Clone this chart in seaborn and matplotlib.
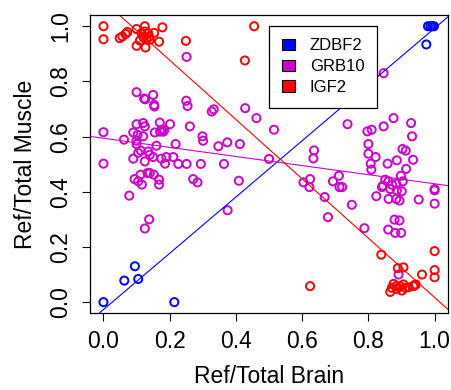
import matplotlib
matplotlib.use("Agg")
import matplotlib.pyplot as plt
import seaborn as sns
import pandas as pd
from matplotlib.patches import Patch

# genes and their colours
genes = ["ZDBF2", "GRB10", "IGF2"]
gene_colors = ["#0000FF", "#CD00CD", "#FF0000"]

# ZDBF2 points (ref/total in brain vs muscle)
zdbf2_brain = [0.0, 0.214, 0.063, 0.095, 0.105, 0.975, 0.980, 0.987, 0.993, 0.998]
zdbf2_muscle = [0.0, 0.0, 0.078, 0.130, 0.084, 0.934, 1.0, 1.0, 1.0, 1.0]

# GRB10 points
grb10_brain = [
    0.251, 0.100, 0.123, 0.126, 0.150, 0.153, 0.154, 0.250, 0.254, 0.327,
    0.333, 0.428, 0.462, 0.515, 0.0, 0.0, 0.062, 0.090, 0.100, 0.120,
    0.125, 0.170, 0.201, 0.176, 0.184, 0.171, 0.181, 0.155, 0.103, 0.120,
    0.100, 0.100, 0.160, 0.218, 0.261, 0.299, 0.301, 0.347, 0.374, 0.412,
    0.135, 0.113, 0.105, 0.090, 0.125, 0.140, 0.150, 0.175, 0.190, 0.211,
    0.186, 0.226, 0.251, 0.294, 0.364, 0.500, 0.271, 0.284, 0.409, 0.375,
    0.094, 0.112, 0.116, 0.105, 0.133, 0.140, 0.152, 0.168, 0.168, 0.078,
    0.138, 0.125,
    0.846, 0.737, 0.797, 0.810, 0.846, 0.876, 0.929, 0.932, 0.800, 0.800,
    0.822, 0.807, 0.809, 0.858, 0.886, 0.903, 0.913, 0.935, 0.914, 0.898,
    0.904, 0.851, 0.844, 0.861, 0.866, 0.884, 0.886, 0.901, 0.841, 0.872,
    0.824, 0.861, 0.884, 0.894, 0.952, 1.0, 1.0, 1.0, 0.879, 0.894,
    0.860, 0.881, 0.899, 0.788, 0.750, 0.678, 0.668, 0.636, 0.634, 0.604,
    0.624, 0.622, 0.693, 0.711, 0.713, 0.721, 0.891,
]
grb10_muscle = [
    0.889, 0.761, 0.738, 0.735, 0.751, 0.715, 0.709, 0.730, 0.711, 0.691,
    0.699, 0.703, 0.667, 0.625, 0.616, 0.502, 0.589, 0.615, 0.645, 0.649,
    0.637, 0.651, 0.645, 0.625, 0.625, 0.618, 0.618, 0.615, 0.606, 0.601,
    0.585, 0.573, 0.567, 0.573, 0.637, 0.601, 0.585, 0.565, 0.579, 0.573,
    0.546, 0.549, 0.541, 0.520, 0.510, 0.534, 0.526, 0.520, 0.526, 0.526,
    0.502, 0.501, 0.501, 0.501, 0.501, 0.519, 0.446, 0.434, 0.440, 0.333,
    0.446, 0.462, 0.426, 0.438, 0.468, 0.468, 0.462, 0.444, 0.426, 0.386,
    0.300, 0.267,
    0.830, 0.645, 0.619, 0.625, 0.637, 0.667, 0.649, 0.601, 0.573, 0.538,
    0.526, 0.502, 0.480, 0.502, 0.514, 0.555, 0.549, 0.516, 0.483, 0.458,
    0.438, 0.444, 0.422, 0.438, 0.410, 0.429, 0.405, 0.402, 0.417, 0.425,
    0.384, 0.374, 0.374, 0.368, 0.372, 0.410, 0.405, 0.357, 0.299, 0.296,
    0.263, 0.251, 0.251, 0.268, 0.353, 0.308, 0.381, 0.550, 0.521, 0.434,
    0.446, 0.417, 0.438, 0.458, 0.417, 0.417, 0.100,
]

# IGF2 points
igf2_brain = [
    0.0, 0.0, 0.049, 0.057, 0.067, 0.072, 0.100, 0.125, 0.178, 0.115,
    0.125, 0.135, 0.153, 0.120, 0.130, 0.110, 0.140, 0.168, 0.100, 0.127,
    0.122, 0.138, 0.249, 0.455, 0.427,
    0.839, 1.0, 1.0, 1.0, 0.889, 0.906, 0.962, 0.624, 0.876, 0.871,
    0.866, 0.896, 0.906, 0.911, 0.901, 0.921, 0.936, 0.943, 0.886, 0.884,
    0.941,
]
igf2_muscle = [
    1.0, 0.953, 0.957, 0.963, 0.972, 0.979, 0.990, 1.0, 0.996, 0.975,
    0.981, 0.975, 0.976, 0.963, 0.953, 0.948, 0.951, 0.944, 0.929, 0.923,
    0.958, 0.962, 0.947, 1.0, 0.876,
    0.172, 0.185, 0.116, 0.090, 0.123, 0.126, 0.100, 0.058, 0.066, 0.052,
    0.037, 0.058, 0.064, 0.052, 0.042, 0.054, 0.058, 0.064, 0.048, 0.058,
    0.062,
]

# fitted lines per gene (slope, intercept)
line_slopes = [1.02, -0.165, -1.075]
line_intercepts = [-0.027, 0.594, 1.092]

ticks = [0.0, 0.2, 0.4, 0.6, 0.8, 1.0]
tick_labels = ["0.0", "0.2", "0.4", "0.6", "0.8", "1.0"]

df = pd.concat([
    pd.DataFrame({"brain": zdbf2_brain, "muscle": zdbf2_muscle, "gene": "ZDBF2"}),
    pd.DataFrame({"brain": grb10_brain, "muscle": grb10_muscle, "gene": "GRB10"}),
    pd.DataFrame({"brain": igf2_brain, "muscle": igf2_muscle, "gene": "IGF2"}),
], ignore_index=True)

sns.set_style("ticks")
plt.rcParams["font.family"] = ["Liberation Sans", "DejaVu Sans"]
plt.rcParams["text.color"] = "black"
plt.rcParams["axes.labelcolor"] = "black"
plt.rcParams["xtick.color"] = "black"
plt.rcParams["ytick.color"] = "black"

fig = plt.figure(figsize=(4.51, 3.90), dpi=100)
ax = fig.add_axes([0.200, 0.197, 0.793, 0.764])

pal = dict(zip(genes, gene_colors))
sns.scatterplot(data=df, x="brain", y="muscle", hue="gene", hue_order=genes,
                palette=pal, s=34, linewidth=1.4, legend=False, ax=ax)
# open circles like R's pch=1
coll = ax.collections[0]
coll.set_edgecolors(coll.get_facecolors())
coll.set_facecolors("none")

for m, b, c in zip(line_slopes, line_intercepts, gene_colors):
    ax.axline((0, b), slope=m, color=c, lw=0.8)

ax.set_xlim(-0.04, 1.04)
ax.set_ylim(-0.04, 1.04)
ax.set_xticks(ticks)
ax.set_xticklabels(tick_labels)
ax.set_yticks(ticks)
ax.set_yticklabels(tick_labels, rotation=90, va="center")
ax.tick_params(axis="both", labelsize=16.5, length=6, width=0.8,
               color="black", labelcolor="black")
ax.tick_params(axis="x", pad=6)
ax.tick_params(axis="y", pad=7)
for sp in ax.spines.values():
    sp.set_color("black")
    sp.set_linewidth(0.9)

ax.set_xlabel("Ref/Total Brain", fontsize=16.5, labelpad=9)
ax.set_ylabel("Ref/Total Muscle", fontsize=16.5, labelpad=9)

handles = [Patch(facecolor=c, edgecolor="black", linewidth=0.8) for c in gene_colors]
leg = ax.legend(handles, genes, loc="upper left", bbox_to_anchor=(0.50, 0.964),
                fontsize=12, frameon=True, fancybox=False, framealpha=1,
                edgecolor="black", borderpad=0.75, labelspacing=0.35,
                handlelength=0.8, handleheight=0.7, handletextpad=0.9,
                borderaxespad=0)
leg.get_frame().set_linewidth(0.9)

fig.savefig("out.png", dpi=100)
